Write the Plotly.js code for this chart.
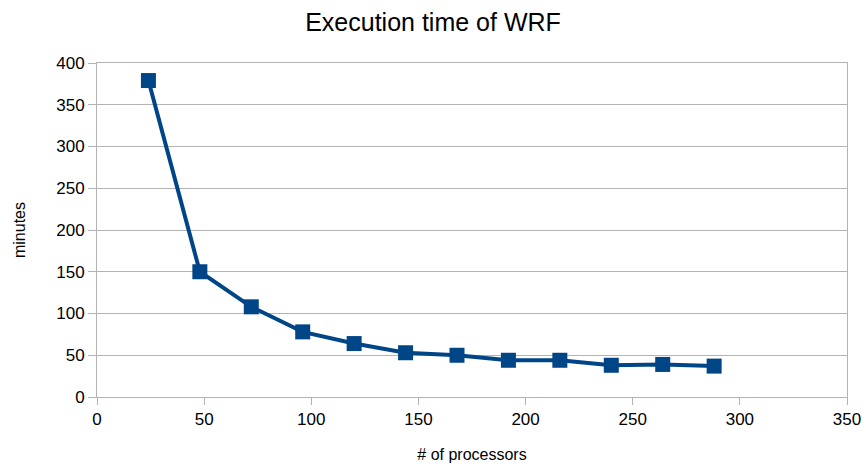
<!DOCTYPE html>
<html><head><meta charset="utf-8">
<script src="https://cdn.plot.ly/plotly-3.0.1.min.js"></script>
<style>html,body{margin:0;padding:0;background:#fff}</style>
</head><body>
<div id="chart" style="width:866px;height:464px"></div>
<script>
const processors = [24, 48, 72, 96, 120, 144, 168, 192, 216, 240, 264, 288];
const minutes = [379, 150, 108, 78, 64, 53, 50, 44, 44, 38, 39, 37];
const xTicks = [0, 50, 100, 150, 200, 250, 300, 350];
const yTicks = [0, 50, 100, 150, 200, 250, 300, 350, 400];

const trace = {
  x: processors, y: minutes, type: 'scatter', mode: 'lines+markers',
  line: {color: '#004586', width: 4},
  marker: {symbol: 'square', size: 15, color: '#004586'},
  showlegend: false, cliponaxis: false
};
const font = {family: 'Liberation Sans, Arial, sans-serif', color: '#000'};
const layout = {
  width: 866, height: 464,
  margin: {l: 97, r: 19, t: 63, b: 67},
  paper_bgcolor: '#fff', plot_bgcolor: '#fff',
  font: font,
  title: {text: 'Execution time of WRF', font: {size: 25, family: font.family, color: '#000'}, x: 0.5, xanchor: 'center', y: 0.953, yanchor: 'middle'},
  xaxis: {
    range: [0, 350], tickvals: xTicks, ticktext: xTicks.map(String),
    showgrid: false, zeroline: false, showline: true, linecolor: '#b3b3b3', linewidth: 1, mirror: true,
    ticks: 'outside', ticklen: 7, tickcolor: '#b3b3b3',
    tickfont: {size: 17, family: font.family, color: '#000'},
    title: {text: '# of processors', font: {size: 16, family: font.family, color: '#000'}, standoff: 20}
  },
  yaxis: {
    range: [0, 400], tickvals: yTicks, ticktext: yTicks.map(String),
    showgrid: true, gridcolor: '#b3b3b3', zeroline: false, showline: true, linecolor: '#b3b3b3', linewidth: 1, mirror: true,
    ticks: 'outside', ticklen: 8, tickcolor: '#b3b3b3',
    tickfont: {size: 17, family: font.family, color: '#000'},
    title: {text: 'minutes', font: {size: 16, family: font.family, color: '#000'}, standoff: 26}
  }
};
Plotly.newPlot('chart', [trace], layout, {displayModeBar: false, staticPlot: true});
</script>
</body></html>
